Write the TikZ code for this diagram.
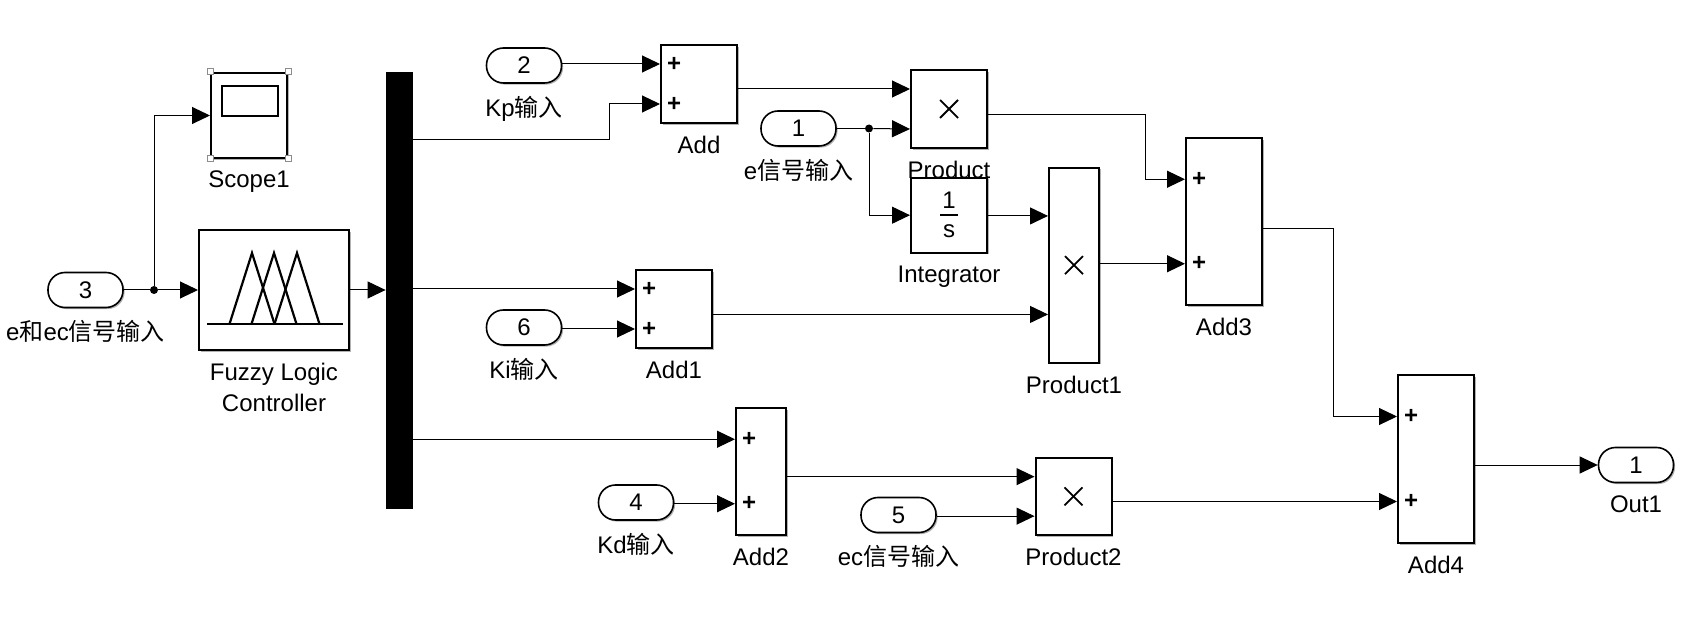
\documentclass[tikz,border=0pt]{standalone}
\usepackage{fontspec}
\setmainfont{Liberation Sans}
\newfontfamily\cjkfont{Noto Sans CJK SC}
\newcommand{\zh}[1]{{\cjkfont #1}}
\usepackage{tikz}
\usetikzlibrary{arrows.meta,calc,shadows}
\tikzstyle{blk}=[draw,line width=1pt,fill=white,inner sep=0pt,drop shadow={shadow xshift=0.8pt,shadow yshift=-0.8pt,fill=black!30,opacity=1}]
\tikzstyle{port}=[blk,line width=0.8pt,rounded corners=8.5pt,minimum width=37.5pt,minimum height=17.5pt]
\tikzstyle{sig}=[line width=0.5pt,-{Triangle[length=9pt,width=8.5pt]}]
\tikzstyle{dot}=[circle,fill=black,minimum size=4pt,inner sep=0pt]
\tikzstyle{handle}=[draw=black!45,fill=white,line width=0.5pt,minimum size=3pt,inner sep=0pt]

\begin{document}
\begin{tikzpicture}[x=0.5pt,y=-0.5pt,font=\fontsize{12}{14}\selectfont,label distance=2.5pt]
\useasboundingbox (0,0) rectangle (1684,624);

% inports and outport
\node[port,label=below:e\zh{和}ec\zh{信号输入}] (p3) at (85.5,290) {3};
\node[port,label=below:Kp\zh{输入}] (p2) at (524,65.5) {2};
\node[port,label=below:Ki\zh{输入}] (p6) at (524,327.5) {6};
\node[port,label=below:e\zh{信号输入}] (p1) at (798.5,128.5) {1};
\node[port,label=below:Kd\zh{输入}] (p4) at (636,502.5) {4};
\node[port,label=below:ec\zh{信号输入}] (p5) at (898.5,515) {5};
\node[port,label=below:Out1] (out1) at (1636,465) {1};

% scope, fuzzy controller, demux bar
\node[blk,minimum width=38pt,minimum height=42.5pt,label=below:Scope1] (scope) at (249,115.5) {};
\node[blk,minimum width=75pt,minimum height=60pt,label={[align=center]below:Fuzzy Logic\\[1.5pt]Controller}] (flc) at (274,290) {};
\node[draw,fill=black,minimum width=13pt,minimum height=218pt] (mux) at (399,290) {};

% sums
\node[blk,minimum width=38pt,minimum height=39pt,label=below:Add] (add) at (699,84) {};
\node[blk,minimum width=38pt,minimum height=39pt,label=below:Add1] (add1) at (674,309) {};
\node[blk,minimum width=25pt,minimum height=63.5pt,label=below:Add2] (add2) at (761,471.5) {};
\node[blk,minimum width=38pt,minimum height=83.5pt,label=below:Add3] (add3) at (1224,221.5) {};
\node[blk,minimum width=38pt,minimum height=84pt,label=below:Add4] (add4) at (1436,459) {};

% products and integrator
\node[blk,minimum width=38pt,minimum height=39pt,label=below:Product] (prod) at (949,109) {};
\node[blk,minimum width=38pt,minimum height=37.5pt,label=below:Integrator] (integ) at (949,215.2) {};
\node[blk,minimum width=25pt,minimum height=97.5pt,label=below:Product1] (prod1) at (1074,265.2) {};
\node[blk,minimum width=38pt,minimum height=38.5pt,label=below:Product2] (prod2) at (1073.5,496.4) {};

\foreach \b in {prod,prod1,prod2}{
  \draw[line width=0.9pt] ([shift={(-9,-9)}]\b.center) -- ([shift={(9,9)}]\b.center);
  \draw[line width=0.9pt] ([shift={(-9,9)}]\b.center) -- ([shift={(9,-9)}]\b.center);
}
\node (integ-num) at ([yshift=7.6pt]integ.center) {1};
\node (integ-den) at ([yshift=-8.2pt]integ.center) {s};
\draw[line width=1pt] ([xshift=-4.5pt]integ.center) -- ([xshift=4.5pt]integ.center);

% scope screen and handles
\draw[line width=1pt] ([shift={(-27,-29.5)}]scope.center) rectangle ([shift={(29,0.5)}]scope.center);
\foreach \c [count=\i] in {north west,north east,south west,south east}
  \node[handle] (hd\i) at (scope.\c) {};

% membership functions
\begin{scope}[shift={(flc.center)},line width=1.1pt]
\draw (-67,34) -- (69,34);
\foreach \x in {-22,0,23}
  \draw (\x-22.5,34) -- (\x,-37) -- (\x+22.5,34);
\end{scope}

% input ports of blocks
\foreach \b in {add,add1,add2,add3,add4,prod,prod1,prod2}{
  \coordinate (\b-i1) at ($(\b.north west)!.25!(\b.south west)$);
  \coordinate (\b-i2) at ($(\b.north west)!.75!(\b.south west)$);
}
\coordinate (mux-o1) at ($(mux.north east)!.156!(mux.south east)$);
\foreach \b in {add,add1,add2,add3,add4}{
  \node[font=\fontsize{12}{14}\selectfont\bfseries] (\b-s1) at ([xshift=7pt]\b-i1) {+};
  \node[font=\fontsize{12}{14}\selectfont\bfseries] (\b-s2) at ([xshift=7pt]\b-i2) {+};
}

% branch points
\node[dot] (br3) at (154,290) {};
\node[dot] (br1) at (869,128.5) {};

% signal lines
\draw[line width=0.5pt] (p3) -- (br3);
\draw[sig] (br3) -- (flc);
\draw[sig] (br3) |- (scope);
\draw[sig] (flc) -- (mux);
\draw[sig] (mux-o1) -- ++(197,0) |- (add-i2);
\draw[sig] (mux.east |- add1-i1) -- (add1-i1);
\draw[sig] (mux.east |- add2-i1) -- (add2-i1);
\draw[sig] (p2.east |- add-i1) -- (add-i1);
\draw[sig] (p6.east |- add1-i2) -- (add1-i2);
\draw[sig] (p4.east |- add2-i2) -- (add2-i2);
\draw[sig] (p5.east |- prod2-i2) -- (prod2-i2);
\draw[line width=0.5pt] (p1) -- (br1);
\draw[sig] (br1) -- (prod-i2);
\draw[sig] (br1) |- (integ);
\draw[sig] (add.east |- prod-i1) -- (prod-i1);
\draw[sig] (add1.east |- prod1-i2) -- (prod1-i2);
\draw[sig] (integ.east |- prod1-i1) -- (prod1-i1);
\draw[sig] ([yshift=-3pt]prod.east) -- ++(157,0) |- (add3-i1);
\draw[sig] (prod1.east |- add3-i2) -- (add3-i2);
\draw[sig] ([yshift=-3.5pt]add3.east) -- ++(70,0) |- (add4-i1);
\draw[sig] (add2.east |- prod2-i1) -- (prod2-i1);
\draw[sig] (prod2.east |- add4-i2) -- (add4-i2);
\draw[sig] (add4.east |- out1) -- (out1);

\end{tikzpicture}
\end{document}
